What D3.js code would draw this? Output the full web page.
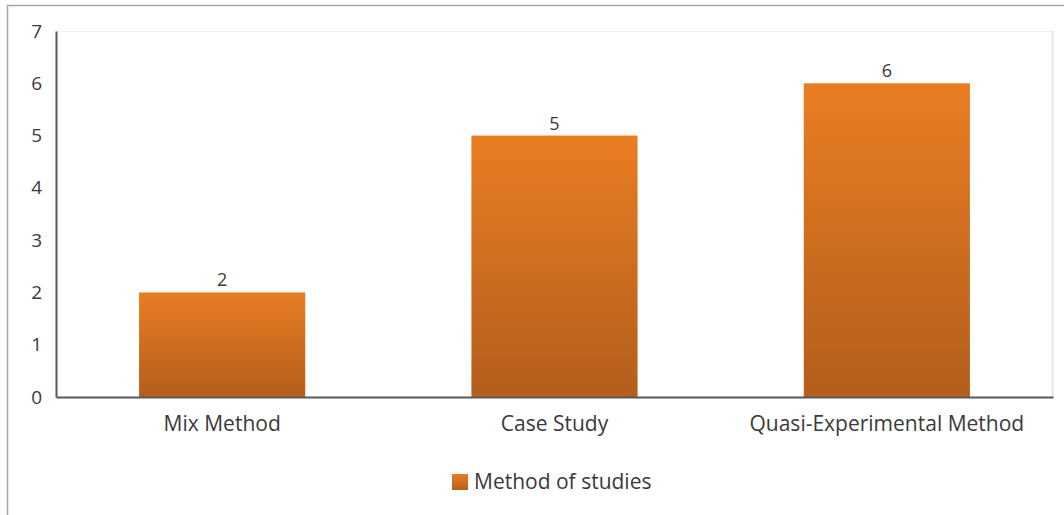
<!DOCTYPE html>
<html>
<head>
<meta charset="utf-8">
<script src="https://cdn.jsdelivr.net/npm/d3@7"></script>
<style>
  body { margin: 0; background: #fff; }
  text { font-family: "Open Sans", sans-serif; fill: #3a3a3a; }
</style>
</head>
<body>
<div id="chart"></div>
<script>
const categories = ["Mix Method", "Case Study", "Quasi-Experimental Method"];
const values = [2, 5, 6];
const yTicks = [0, 1, 2, 3, 4, 5, 6, 7];
const seriesName = "Method of studies";

const width = 1064, height = 515;
const margin = { top: 31, right: 11, bottom: 118, left: 56 };
const innerW = width - margin.left - margin.right;
const innerH = height - margin.top - margin.bottom;

const svg = d3.select("#chart").append("svg")
    .attr("width", width)
    .attr("height", height);

let defs = svg.append("defs");
let grad = defs.append("linearGradient")
    .attr("id", "barGrad")
    .attr("x1", 0).attr("y1", 0).attr("x2", 0).attr("y2", 1);
grad.append("stop").attr("offset", "0%").attr("stop-color", "#e97d22");
grad.append("stop").attr("offset", "100%").attr("stop-color", "#b35e1c");

// outer frame (only top and left edges show in the picture)
svg.append("line").attr("x1", 7).attr("x2", width).attr("y1", 5.5).attr("y2", 5.5)
    .attr("stroke", "#a6a6a6").attr("stroke-width", 1.5);
svg.append("line").attr("x1", 7.5).attr("x2", 7.5).attr("y1", 5).attr("y2", height)
    .attr("stroke", "#a6a6a6").attr("stroke-width", 1.5);

const g = svg.append("g")
    .attr("transform", `translate(${margin.left}, ${margin.top})`);

let x = d3.scaleBand()
    .domain(categories)
    .range([0, innerW])
    .paddingInner(0.5)
    .paddingOuter(0.25);

let y = d3.scaleLinear()
    .domain([0, 7])
    .range([innerH, 0]);

// faint plot area frame
g.append("line").attr("x1", 0).attr("x2", innerW).attr("y1", 0.5).attr("y2", 0.5)
    .attr("stroke", "#f2f2f2");
g.append("line").attr("x1", innerW - 0.5).attr("x2", innerW - 0.5).attr("y1", 0).attr("y2", innerH)
    .attr("stroke", "#e6e6e6").attr("stroke-width", 2);

g.selectAll("rect.bar").data(values)
    .enter()
    .append("rect")
    .attr("class", "bar")
    .attr("x", function(d, i) { return x(categories[i]); })
    .attr("y", function(d) { return y(d); })
    .attr("width", x.bandwidth())
    .attr("height", function(d) { return innerH - y(d); })
    .attr("fill", "url(#barGrad)");

g.selectAll("text.val").data(values)
    .enter()
    .append("text")
    .attr("class", "val")
    .attr("x", function(d, i) { return x(categories[i]) + x.bandwidth() / 2; })
    .attr("y", function(d) { return y(d) - 6; })
    .style("text-anchor", "middle")
    .style("font-size", "18px")
    .text(function(d) { return d; });

// y axis
let yAxis = g.append("g")
    .call(d3.axisLeft(y).tickValues(yTicks).tickFormat(d3.format("d")).tickSize(0).tickPadding(14));
yAxis.select(".domain").attr("stroke", "#595959").attr("stroke-width", 2);
yAxis.selectAll("text").style("font-size", "19px").attr("fill", "#3a3a3a")
    .style("font-family", "Open Sans, sans-serif");

// x axis
let xAxis = g.append("g")
    .attr("transform", `translate(0, ${innerH})`)
    .call(d3.axisBottom(x).tickSize(0).tickPadding(19));
xAxis.select(".domain").attr("stroke", "#595959").attr("stroke-width", 2);
xAxis.selectAll("text").style("font-size", "21px").attr("fill", "#3a3a3a")
    .style("font-family", "Open Sans, sans-serif");

// legend
let legend = svg.append("g").attr("transform", "translate(452, 474)");
legend.append("rect")
    .attr("width", 16).attr("height", 16)
    .attr("fill", "url(#barGrad)");
legend.append("text")
    .attr("x", 22).attr("y", 15)
    .style("font-size", "21px")
    .text(seriesName);
</script>
</body>
</html>
